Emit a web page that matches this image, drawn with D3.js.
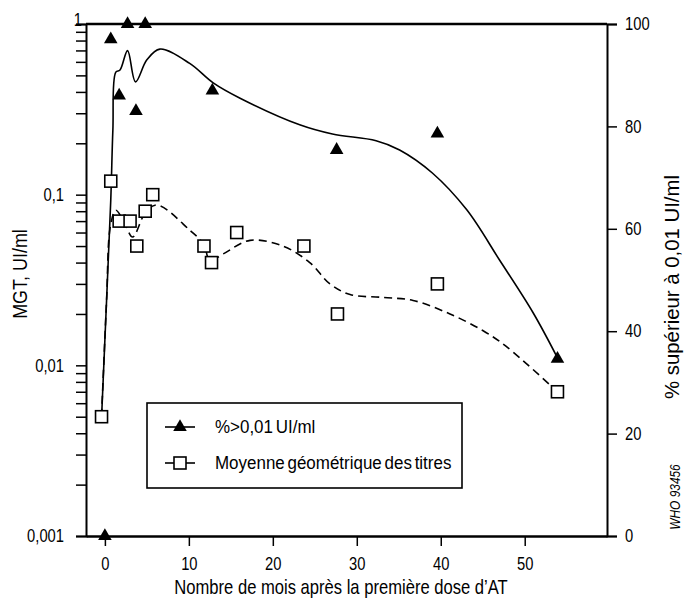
<!DOCTYPE html>
<html>
<head>
<meta charset="utf-8">
<script src="https://cdn.jsdelivr.net/npm/d3@7"></script>
<style>
  body { margin: 0; background: #fff; }
  svg text { font-family: "Liberation Sans", Arial, sans-serif; fill: #000; }
  .axis path, .axis line { stroke: #000; }
</style>
</head>
<body>
<svg id="chart" width="685" height="608"></svg>
<script>
//data
//-- triangles : % above 0,01 UI/ml (right axis)
var pctMonths = [0, 0.7, 1.7, 2.7, 3.7, 4.8, 12.8, 27.6, 39.6, 53.9];
var pctValues = [0, 97, 86, 100, 83, 100, 87, 75.4, 78.6, 34.6];
//-- squares : geometric mean titre (left axis, log)
var mgtMonths = [-0.4, 0.7, 1.7, 3.0, 3.8, 4.8, 5.7, 11.8, 12.7, 15.7, 23.7, 27.7, 39.6, 53.9];
var mgtValues = [0.005, 0.12, 0.07, 0.07, 0.05, 0.08, 0.1, 0.05, 0.04, 0.06, 0.05, 0.02, 0.03, 0.007];
//-- fitted curve (solid, % scale)
var pctCurveMonths = [-0.4, 0.2, 0.7, 0.95, 1.3, 1.8, 2.7, 3.65, 5.0, 6.55, 10.1, 12.9, 16.1, 23.2, 27.1, 32.3, 35.1, 39.0, 43.1, 47.0, 51.0, 53.9];
var pctCurveValues = [23, 46, 65.6, 79.3, 90.6, 91, 94.8, 88.7, 93, 95.1, 92.3, 88.5, 85.5, 80.3, 78.5, 77.2, 75.4, 70.9, 63.7, 53.9, 43.6, 34.8];
//-- fitted curve (dashed, log scale)
var mgtCurveMonths = [-0.4, 0.2, 0.65, 1.3, 2.3, 3.3, 4.8, 6.2, 10.1, 11.8, 12.5, 14.1, 17.3, 21.2, 24.4, 26.8, 29.2, 33.1, 36.7, 41.1, 45.0, 47.8, 53.9];
var mgtCurveValues = [0.005, 0.024, 0.065, 0.081, 0.069, 0.0565, 0.078, 0.087, 0.062, 0.051, 0.041, 0.045, 0.054, 0.050, 0.040, 0.030, 0.026, 0.025, 0.024, 0.020, 0.016, 0.0129, 0.007];
//-- ticks
var xTicks = [0, 10, 20, 30, 40, 50];
var leftTicks = [0.001, 0.01, 0.1, 1];
var leftTickLabels = ["0,001", "0,01", "0,1", "1"];
var rightTicks = [0, 20, 40, 60, 80, 100];
//-- legend
var legendLabels = ["%>0,01 UI/ml", "Moyenne géométrique des titres"];

//squeeze text horizontally, the original uses a narrow face
function narrow(sel, f) {
  sel.each(function() {
    var t = d3.select(this);
    var x0 = +t.attr("x") || 0;
    t.attr("x", x0 / f)
      .attr("transform", (t.attr("transform") || "") + " scale(" + f + ",1)");
  });
}

// -- format svg element
var svg = d3.select("#chart"),
  margin = { top: 24, right: 78, bottom: 72, left: 86 },
  width = +svg.attr("width") - margin.left - margin.right,
  height = +svg.attr("height") - margin.top - margin.bottom;

var g = svg.append("g")
  .attr("transform", "translate(" + margin.left + "," + margin.top + ")");

// -- scales
var x = d3.scaleLinear().domain([-2.25, 59.8]).range([0, width]);
var yLog = d3.scaleLog().domain([0.001, 1]).range([height, 0]);
var yPct = d3.scaleLinear().domain([0, 100]).range([height, 0]);

// -- minor ticks for the log axis (2..9 in each decade)
var minorTicks = [];
leftTicks.slice(0, 3).forEach(function(d) {
  for (var k = 2; k <= 9; k++) minorTicks.push(d * k);
});

// -- left axis
var leftAxis = g.append("g")
  .attr("class", "axis")
  .call(d3.axisLeft(yLog).tickValues(leftTicks.concat(minorTicks)).tickSize(10).tickPadding(12)
    .tickFormat(function(d) {
      var i = leftTicks.indexOf(d);
      return i < 0 ? "" : leftTickLabels[i];
    }));
leftAxis.select(".domain").attr("stroke-width", 2);
leftAxis.selectAll("line").attr("stroke-width", 1.5);
leftAxis.selectAll("text").attr("font-size", 18);
// -- the "1" sits right against the axis in the original
leftAxis.selectAll(".tick").filter(function(d) { return d === 1; })
  .select("text").attr("x", -4).attr("dy", "0.1em");
narrow(leftAxis.selectAll("text"), 0.82);

// -- right axis
var rightAxis = g.append("g")
  .attr("class", "axis")
  .attr("transform", "translate(" + width + ",0)")
  .call(d3.axisRight(yPct).tickValues(rightTicks).tickSize(10).tickPadding(8));
rightAxis.select(".domain").attr("stroke-width", 2);
rightAxis.selectAll("line").attr("stroke-width", 1.5);
rightAxis.selectAll("text").attr("font-size", 18);
narrow(rightAxis.selectAll("text"), 0.82);

// -- bottom axis
var bottomAxis = g.append("g")
  .attr("class", "axis")
  .attr("transform", "translate(0," + height + ")")
  .call(d3.axisBottom(x).tickValues(xTicks).tickSize(10).tickPadding(11).tickSizeOuter(0));
bottomAxis.select(".domain").attr("stroke-width", 2.5);
bottomAxis.selectAll("line").attr("stroke-width", 1.5);
bottomAxis.selectAll("text").attr("font-size", 18);
narrow(bottomAxis.selectAll("text"), 0.82);

// -- top border
g.append("line")
  .attr("x1", 0).attr("x2", width)
  .attr("y1", 0).attr("y2", 0)
  .attr("stroke", "#000").attr("stroke-width", 2.5);

// -- axis titles
svg.append("text")
  .attr("transform", "translate(27,274) rotate(-90)")
  .attr("text-anchor", "middle")
  .attr("font-size", 19.5)
  .text("MGT, UI/ml")
  .call(narrow, 0.92);

svg.append("text")
  .attr("transform", "translate(679,287) rotate(-90)")
  .attr("text-anchor", "middle")
  .attr("font-size", 21)
  .text("% supérieur à 0,01 UI/ml")
  .call(narrow, 0.97);

svg.append("text")
  .attr("transform", "translate(341,594)")
  .attr("text-anchor", "middle")
  .attr("font-size", 20)
  .text("Nombre de mois après la première dose d’AT")
  .call(narrow, 0.83);

svg.append("text")
  .attr("transform", "translate(680,497) rotate(-90)")
  .attr("text-anchor", "middle")
  .attr("font-size", 14)
  .attr("font-style", "italic")
  .text("WHO 93456")
  .call(narrow, 0.85);

// -- curves
var pctLine = d3.line()
  .x(function(d, i) { return x(pctCurveMonths[i]); })
  .y(function(d) { return yPct(d); })
  .curve(d3.curveCatmullRom.alpha(0.5));

var mgtLine = d3.line()
  .x(function(d, i) { return x(mgtCurveMonths[i]); })
  .y(function(d) { return yLog(d); })
  .curve(d3.curveCatmullRom.alpha(0.5));

g.append("path")
  .attr("d", pctLine(pctCurveValues))
  .attr("fill", "none")
  .attr("stroke", "#000")
  .attr("stroke-width", 1.6);

g.append("path")
  .attr("d", mgtLine(mgtCurveValues))
  .attr("fill", "none")
  .attr("stroke", "#000")
  .attr("stroke-width", 1.6)
  .attr("stroke-dasharray", "8,5");

// -- square markers
var sq = 12;
g.selectAll(".sq")
  .data(mgtValues)
  .enter()
  .append("rect")
  .attr("class", "sq")
  .attr("x", function(d, i) { return x(mgtMonths[i]) - sq / 2; })
  .attr("y", function(d) { return yLog(d) - sq / 2; })
  .attr("width", sq)
  .attr("height", sq)
  .attr("fill", "#fff")
  .attr("stroke", "#000")
  .attr("stroke-width", 1.6);

// -- triangle markers
var tri = d3.symbol().type(d3.symbolTriangle).size(80);
g.selectAll(".tri")
  .data(pctValues)
  .enter()
  .append("path")
  .attr("class", "tri")
  .attr("d", tri)
  .attr("transform", function(d, i) {
    return "translate(" + x(pctMonths[i]) + "," + yPct(d) + ")";
  })
  .attr("fill", "#000");

// -- legend
var legend = svg.append("g").attr("transform", "translate(147,403)");
legend.append("rect")
  .attr("width", 315).attr("height", 85)
  .attr("fill", "#fff")
  .attr("stroke", "#000")
  .attr("stroke-width", 1.6);

var rows = legend.selectAll(".row")
  .data(legendLabels)
  .enter()
  .append("g")
  .attr("transform", function(d, i) { return "translate(0," + (24 + i * 36) + ")"; });

rows.append("line")
  .attr("x1", 18).attr("x2", 48)
  .attr("stroke", "#000").attr("stroke-width", 1.6);

rows.filter(function(d, i) { return i === 0; })
  .append("path")
  .attr("d", tri)
  .attr("transform", "translate(33,0)");

rows.filter(function(d, i) { return i === 1; })
  .append("rect")
  .attr("x", 27).attr("y", -6)
  .attr("width", sq).attr("height", sq)
  .attr("fill", "#fff").attr("stroke", "#000").attr("stroke-width", 1.6);

rows.append("text")
  .attr("x", 68)
  .attr("dy", "0.35em")
  .attr("font-size", 17.5)
  .attr("word-spacing", -2)
  .text(function(d) { return d; })
  .call(narrow, 0.97);
</script>
</body>
</html>
